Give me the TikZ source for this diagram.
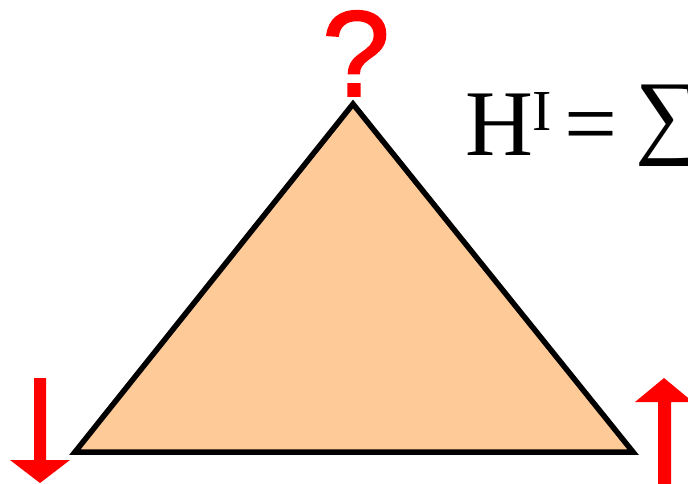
\documentclass[tikz,border=0pt]{standalone}
\usepackage{fontspec}
\setmainfont{Liberation Serif}
\newfontfamily\qfont[FakeBold=1.5]{Liberation Sans}
\definecolor{peach}{RGB}{253,202,152}
\definecolor{pred}{RGB}{255,0,0}
\begin{document}
\begin{tikzpicture}[x=1pt,y=-1pt,
  tri/.style={draw=black,fill=peach,line width=5.5pt,line join=miter},
  spin/.style={fill=pred,draw=none}]
\useasboundingbox (0,0) rectangle (688,483);
% triangle
\coordinate (A) at (353,104);
\coordinate (B) at (75,452);
\coordinate (C) at (633,452);
\draw[tri] (A) -- (B) -- (C) -- cycle;
% question mark at apex
\node[anchor=base, inner sep=0, text=pred, font=\qfont\fontsize{122}{122}\selectfont] (q) at (356,96) {?};
% down arrow (left)
\fill[spin] (34,378) -- (46,378) -- (46,460) -- (70,460) -- (40,483) -- (10,460) -- (34,460) -- cycle;
% up arrow (right)
\fill[spin] (658,490) -- (671,490) -- (671,402) -- (693,402) -- (664,378) -- (635,402) -- (658,402) -- cycle;
% formula
\node[anchor=base west, inner sep=0, font=\fontsize{94}{94}\selectfont] (f) at (465,155)
  {H\kern-1pt\raisebox{25pt}{\fontsize{58}{58}\selectfont I}\kern13pt=\kern18pt\raisebox{9pt}{∑}};
\end{tikzpicture}
\end{document}
